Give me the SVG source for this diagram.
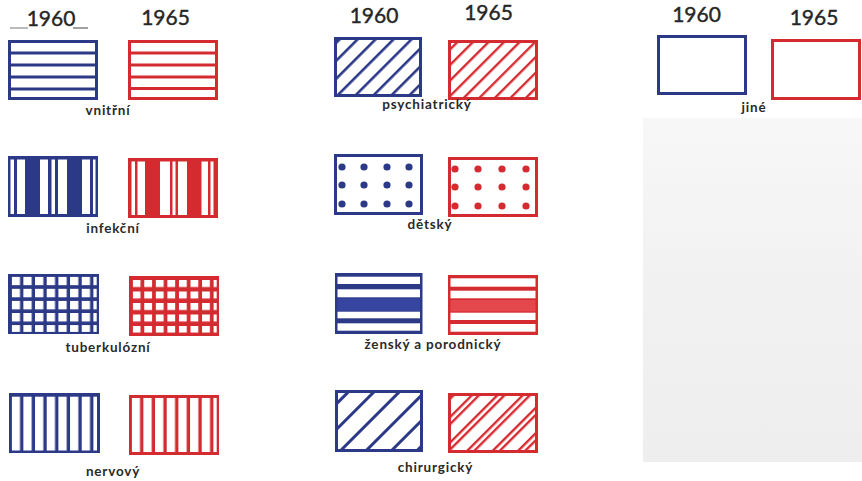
<svg xmlns="http://www.w3.org/2000/svg" width="862" height="481" viewBox="0 0 862 481">
<style>
.bo{fill:none;stroke:#2c3987;stroke-width:3}
.ro{fill:none;stroke:#d42b31;stroke-width:3}
.bf{fill:#2c3987}
.rf{fill:#d42b31}
.w{fill:#ffffff}
.yr{font-family:Lato,"Open Sans","DejaVu Sans",sans-serif;font-size:21px;fill:#262626;stroke:#262626;stroke-width:0.4;text-anchor:middle}
.lb{font-family:Lato,"Open Sans","DejaVu Sans",sans-serif;font-size:13.5px;font-weight:bold;fill:#2a2a2a;text-anchor:middle;letter-spacing:0.8px}
</style>
<defs>
<pattern id="pB" patternUnits="userSpaceOnUse" width="12.7" height="12.7" patternTransform="rotate(45)"><rect x="0" y="0" width="2.6" height="12.7" fill="#2c3987"/></pattern>
<pattern id="pR" patternUnits="userSpaceOnUse" width="11" height="11" patternTransform="rotate(45)"><rect x="0" y="0" width="2.4" height="11" fill="#d42b31"/></pattern>
<pattern id="cB" patternUnits="userSpaceOnUse" width="18" height="18" patternTransform="rotate(45)"><rect x="0" y="0" width="3" height="18" fill="#2c3987"/></pattern>
<pattern id="cR" patternUnits="userSpaceOnUse" width="18" height="18" patternTransform="rotate(45)"><rect x="0" y="0" width="2.4" height="18" fill="#d42b31"/><rect x="5" y="0" width="2.4" height="18" fill="#d42b31"/></pattern>
<pattern id="gB" patternUnits="userSpaceOnUse" x="11.7" y="276.7" width="11.67" height="12.1"><rect x="0" y="0" width="8.3" height="8.5" fill="#fff"/></pattern>
<pattern id="gR" patternUnits="userSpaceOnUse" x="132.7" y="280" width="11.56" height="11.5"><rect x="0" y="0" width="7.8" height="7" fill="#fff"/></pattern>
<pattern id="vB" patternUnits="userSpaceOnUse" x="11.7" y="0" width="11.67" height="10"><rect x="0" y="0" width="8.3" height="10" fill="#fff"/></pattern>
<pattern id="vR" patternUnits="userSpaceOnUse" x="131.7" y="0" width="11.67" height="10"><rect x="0" y="0" width="8.3" height="10" fill="#fff"/></pattern>
<linearGradient id="panel" x1="0" y1="0" x2="0" y2="1"><stop offset="0" stop-color="#f7f7f7"/><stop offset="0.5" stop-color="#f1f1f1"/><stop offset="1" stop-color="#eeeeee"/></linearGradient>
</defs>
<rect x="0" y="0" width="862" height="481" fill="#ffffff"/>
<rect x="643" y="118" width="219" height="344" fill="url(#panel)"/>

<g id="years">
<text class="yr" x="51" y="26">1960</text>
<line x1="10" y1="28" x2="28" y2="28" stroke="#777" stroke-width="1"/>
<line x1="73" y1="28" x2="88" y2="28" stroke="#444" stroke-width="1"/>
<text class="yr" x="165.5" y="25">1965</text>
<text class="yr" x="374" y="23">1960</text>
<text class="yr" x="488.5" y="20">1965</text>
<text class="yr" x="696.5" y="22">1960</text>
<text class="yr" x="814" y="25">1965</text>
</g>

<g id="vnitrni">
<rect class="bo" x="9.5" y="41.5" width="87" height="57"/>
<g stroke="#2c3987" stroke-width="3"><line x1="8" y1="53" x2="98" y2="53"/><line x1="8" y1="65" x2="98" y2="65"/><line x1="8" y1="77" x2="98" y2="77"/><line x1="8" y1="89" x2="98" y2="89"/></g>
<rect class="ro" x="129.5" y="41.5" width="87" height="57"/>
<g stroke="#d42b31" stroke-width="3"><line x1="128" y1="53" x2="218" y2="53"/><line x1="128" y1="65" x2="218" y2="65"/><line x1="128" y1="77" x2="218" y2="77"/><line x1="128" y1="88.5" x2="218" y2="88.5"/></g>
<text class="lb" x="108" y="115">vnitřní</text>
</g>

<g id="infekcni">
<rect class="bf" x="8" y="156" width="90" height="61"/>
<g class="w"><rect x="10.5" y="159.5" width="3.5" height="54.5"/><rect x="17" y="159.5" width="8" height="54.5"/><rect x="40" y="159.5" width="8" height="54.5"/><rect x="51.5" y="159.5" width="3.5" height="54.5"/><rect x="58" y="159.5" width="9" height="54.5"/><rect x="82" y="159.5" width="8" height="54.5"/><rect x="93" y="159.5" width="2.5" height="54.5"/></g>
<rect class="rf" x="128" y="158" width="90" height="60"/>
<g class="w"><rect x="131.5" y="161.5" width="3.5" height="53.5"/><rect x="137.5" y="161.5" width="7.5" height="53.5"/><rect x="160" y="161.5" width="10" height="53.5"/><rect x="172.5" y="161.5" width="3" height="53.5"/><rect x="178" y="161.5" width="9" height="53.5"/><rect x="201.5" y="161.5" width="6.5" height="53.5"/><rect x="210.5" y="161.5" width="3" height="53.5"/></g>
<text class="lb" x="113" y="233">infekční</text>
</g>

<g id="tuberkulozni">
<rect class="bf" x="8" y="274" width="91" height="60"/>
<rect x="11.7" y="276.7" width="85" height="55.2" fill="url(#gB)"/>
<rect class="rf" x="129" y="276" width="90" height="60"/>
<rect x="132.7" y="280" width="84" height="52.7" fill="url(#gR)"/>
<text class="lb" x="108" y="352">tuberkulózní</text>
</g>

<g id="nervovy">
<rect class="bf" x="9" y="393" width="91" height="60"/>
<rect x="11.7" y="396.7" width="85.3" height="53.8" fill="url(#vB)"/>
<rect class="rf" x="129" y="395" width="90" height="60"/>
<rect x="131.7" y="398" width="85" height="54" fill="url(#vR)"/>
<text class="lb" x="113" y="476">nervový</text>
</g>

<g id="psychiatricky">
<rect x="335" y="38" width="86" height="58" fill="url(#pB)"/>
<rect class="bo" x="335.5" y="38.5" width="85" height="57"/>
<rect x="449" y="41" width="88" height="58" fill="url(#pR)"/>
<rect class="ro" x="449.5" y="41.5" width="87" height="57"/>
<text class="lb" x="427" y="109">psychiatrický</text>
</g>

<g id="detsky">
<rect class="bo" x="335.5" y="155.5" width="86" height="58"/>
<g class="bf"><circle cx="342" cy="167" r="3.6"/><circle cx="364" cy="167" r="3.6"/><circle cx="387" cy="167" r="3.6"/><circle cx="409" cy="167" r="3.6"/><circle cx="342" cy="185" r="3.6"/><circle cx="364" cy="185" r="3.6"/><circle cx="387" cy="185" r="3.6"/><circle cx="409" cy="185" r="3.6"/><circle cx="342" cy="204" r="3.6"/><circle cx="364" cy="204" r="3.6"/><circle cx="387" cy="204" r="3.6"/><circle cx="409" cy="204" r="3.6"/></g>
<rect class="ro" x="449.5" y="158.5" width="87" height="57"/>
<g class="rf"><circle cx="455" cy="169" r="3.6"/><circle cx="478" cy="169" r="3.6"/><circle cx="502" cy="169" r="3.6"/><circle cx="526" cy="169" r="3.6"/><circle cx="455" cy="187" r="3.6"/><circle cx="478" cy="187" r="3.6"/><circle cx="502" cy="187" r="3.6"/><circle cx="526" cy="187" r="3.6"/><circle cx="455" cy="206" r="3.6"/><circle cx="478" cy="206" r="3.6"/><circle cx="502" cy="206" r="3.6"/><circle cx="526" cy="206" r="3.6"/></g>
<text class="lb" x="430" y="229">dětský</text>
</g>

<g id="zensky">
<rect class="bf" x="335" y="273" width="87.5" height="61"/>
<rect x="337.5" y="298.5" width="82.5" height="12.5" fill="#3646a0"/>
<g class="w"><rect x="337.5" y="276.7" width="82.5" height="7.3"/><rect x="337.5" y="289.3" width="82.5" height="8"/><rect x="337.5" y="311.7" width="82.5" height="6.6"/><rect x="337.5" y="323.3" width="82.5" height="7.4"/></g>
<rect class="rf" x="448" y="275" width="90" height="60"/>
<rect x="450.5" y="300" width="85" height="11.5" fill="#e4474c"/>
<g class="w"><rect x="450.5" y="278.3" width="85" height="8.4"/><rect x="450.5" y="290.7" width="85" height="7.6"/><rect x="450.5" y="312.7" width="85" height="7.3"/><rect x="450.5" y="324" width="85" height="7.7"/></g>
<text class="lb" x="433" y="349">ženský a porodnický</text>
</g>

<g id="chirurgicky">
<rect x="336" y="391" width="86" height="60" fill="url(#cB)"/>
<rect class="bo" x="336.5" y="391.5" width="85" height="59"/>
<rect x="449" y="394" width="88" height="58" fill="url(#cR)"/>
<rect class="ro" x="449.5" y="394.5" width="87" height="57"/>
<text class="lb" x="435.5" y="472">chirurgický</text>
</g>

<g id="jine">
<rect class="bo" x="658.5" y="36.5" width="87" height="57"/>
<rect class="ro" x="772.5" y="40.5" width="87" height="58"/>
<text class="lb" x="754" y="112">jiné</text>
</g>
</svg>
